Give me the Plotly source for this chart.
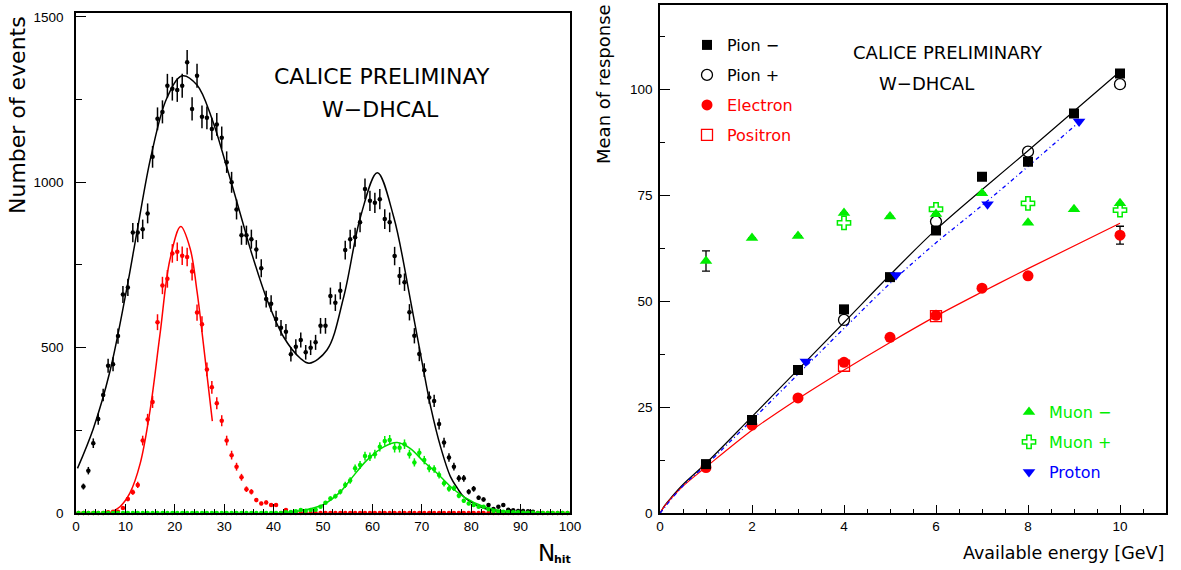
import numpy as np
import plotly.graph_objects as go

FONT = "DejaVu Sans"
TICKFONT = "Liberation Sans"

# ---------------- left panel: N_hit distributions ----------------
# all events (black), bins centred at 1.5 ... 92.5
total_centres = np.arange(1.5, 93.0, 1.0)
total_counts = [80, 128, 211, 284, 357, 445, 450, 535, 661, 682,
                848, 848, 858, 906, 1077, 1192, 1213, 1292, 1283, 1279,
                1292, 1363, 1222, 1322, 1198, 1195, 1161, 1175, 1135, 1061,
                1000, 918, 840, 840, 828, 797, 740, 647, 633, 587,
                560, 548, 480, 503, 523, 486, 500, 516, 566, 566,
                656, 636, 672, 795, 828, 834, 879, 980, 944, 938,
                949, 889, 879, 777, 717, 698, 607, 536, 481, 432,
                349, 339, 269, 213, 168, 140, 105, 105, 64, 73,
                46, 41, 24, 12, 19, 24, 10, 8, 6, 6,
                5, 4]

# electron (red) and muon (green) selections, bins centred at 0.5 ... 99.5
bin_centres = np.arange(0.5, 100.0, 1.0)
electron_counts = [0, 0, 0, 0, 0, 0, 2, 4, 4, 15,
                   42, 63, 85, 219, 283, 336, 577, 688, 708, 785,
                   790, 778, 774, 730, 606, 571, 434, 380, 332, 279,
                   219, 175, 140, 108, 72, 64, 39, 29, 32, 24,
                   24, 0, 9] + [0] * 57
muon_counts = [0] * 42 + [2, 3, 5, 9, 7, 9, 10, 19, 31, 44,
                          51, 64, 85, 98, 135, 145, 172, 170, 178, 200,
                          218, 221, 197, 197, 208, 178, 153, 182, 160, 135,
                          133, 115, 90, 73, 75, 52, 37, 29, 24, 19,
                          19, 11, 6, 4, 4, 3, 2, 2, 1, 1, 1] + [0] * 7

# fitted curves
total_fit_x = [0.3, 3.5, 6.9, 10.3, 12.4, 15.2, 18.4, 21.5, 24.5, 27.5, 30.5, 33.9,
               35.3, 38.7, 42.0, 45.4, 47.2, 50.8, 54.2, 57.6, 61.0, 64.3, 67.7,
               70.0, 71.8, 73.8, 75.8, 77.2, 78.5, 82.6, 88.0, 95.0]
total_fit_y = [135, 255, 430, 680, 855, 1080, 1255, 1322, 1294, 1193, 1047, 871,
               798, 644, 533, 468, 453, 493, 654, 896, 1029, 896, 644,
               460, 321, 200, 110, 75, 49, 14, 1, 0]
electron_fit_x = [6.9, 8.9, 10.9, 13.0, 15.0, 17.0, 19.0, 21.2, 23.1, 24.5, 25.8, 27.6]
electron_fit_y = [1, 19, 60, 150, 311, 540, 765, 866, 800, 670, 510, 278]
muon_fit_x = [41.0, 45.4, 50.0, 53.5, 55.5, 58.9, 62.3, 65.0, 67.7, 70.4, 73.1,
              75.8, 78.5, 82.6, 86.6, 92.7]
muon_fit_y = [1, 7, 25, 64, 100, 160, 200, 213, 195, 155, 120, 80, 49, 19, 6, 1]

# ---------------- right panel: mean response vs energy ----------------
pion_minus_e = [1, 2, 3, 4, 5, 6, 7, 8, 9, 10]
pion_minus_r = [11.6, 22.0, 33.8, 48.1, 55.7, 66.7, 79.4, 82.9, 94.3, 103.7]
pion_plus_e = [4, 6, 8, 10]
pion_plus_r = [45.6, 68.8, 85.3, 101.2]
electron_e = [1, 2, 3, 4, 5, 6, 7, 8, 10]
electron_r = [10.8, 20.8, 27.2, 35.6, 41.5, 46.7, 53.1, 56.0, 65.6]
electron_err = [0, 0, 0, 0, 0, 0, 0, 0, 2.1]
positron_e = [4, 6]
positron_r = [34.8, 46.5]
muon_minus_e = [1, 2, 3, 4, 5, 6, 7, 8, 9, 10]
muon_minus_r = [59.5, 64.9, 65.4, 70.8, 70.0, 70.6, 75.5, 68.5, 71.7, 73.1]
muon_minus_err = [2.4, 0, 0, 0, 0, 0, 0, 0, 0, 0]
muon_plus_e = [4, 6, 8, 10]
muon_plus_r = [68.5, 71.7, 73.1, 71.5]
proton_e = [3.17, 5.13, 7.12, 9.11]
proton_r = [35.8, 56.2, 72.9, 92.4]

pion_fit_e = [0, 0.1, 0.25, 0.5, 1, 2, 3, 4, 5, 6, 8, 10]
pion_fit_r = [0, 1.8, 3.8, 6.8, 11.8, 22.8, 33.9, 45.0, 56.2, 66.9, 85.5, 104.2]
electron_fit_e = [0, 0.1, 0.25, 0.5, 1, 2, 3, 4, 5, 6, 7, 8, 10]
electron_fit_r = [0, 1.7, 3.6, 6.4, 10.9, 19.6, 27.0, 33.8, 40.3, 46.5, 52.2, 57.7, 68.4]
proton_fit_e = [0, 0.5, 1, 2, 3, 4, 5, 6, 7, 8, 9.1]
proton_fit_r = [0, 6.5, 11.4, 22.0, 32.8, 43.6, 54.2, 63.8, 72.6, 81.8, 92.2]

W, H = 1181, 570


def px(x):
    return x / W


def py(y):
    return 1 - y / H


fig = go.Figure()


def add_hist(x, counts, color):
    counts = np.asarray(counts, dtype=float)
    fig.add_trace(go.Scatter(
        x=x, y=counts, mode='markers', xaxis='x', yaxis='y',
        marker=dict(size=4.5, color=color),
        error_y=dict(type='data', array=np.sqrt(counts), width=0, thickness=1.5, color=color),
        error_x=dict(type='constant', value=0.35, width=0, thickness=1, color=color),
        cliponaxis=False, showlegend=False, hoverinfo='skip'
    ))


def add_curve(x, y, color, xa='x', ya='y', width=1.5, dash='solid'):
    fig.add_trace(go.Scatter(
        x=x, y=y, mode='lines', xaxis=xa, yaxis=ya,
        line=dict(color=color, width=width, shape='spline', smoothing=1.0, dash=dash),
        showlegend=False, hoverinfo='skip'
    ))


add_hist(total_centres, total_counts, 'black')
add_curve(total_fit_x, total_fit_y, 'black')
add_hist(bin_centres, electron_counts, '#ff0000')
add_curve(electron_fit_x, electron_fit_y, '#ff0000')
add_hist(bin_centres, muon_counts, '#00ee00')
add_curve(muon_fit_x, muon_fit_y, '#00dd00')

# right panel fits
add_curve(pion_fit_e, pion_fit_r, 'black', 'x2', 'y2', width=1.2)
add_curve(electron_fit_e, electron_fit_r, '#ff0000', 'x2', 'y2', width=1.2)
add_curve(proton_fit_e, proton_fit_r, '#0000ff', 'x2', 'y2', width=1.3, dash='4px,3px,1px,3px')


def add_points(x, y, name, symbol, color, size, legend, err=None, line_w=0):
    kw = {}
    if err is not None:
        kw['error_y'] = dict(type='data', array=err, width=4, thickness=1.3, color='black')
    fig.add_trace(go.Scatter(
        x=x, y=y, mode='markers', name=name, xaxis='x2', yaxis='y2',
        marker=dict(symbol=symbol, size=size, color=color,
                    line=dict(color=color, width=line_w)),
        legend=legend, hoverinfo='skip', **kw
    ))


add_points(electron_e, electron_r, 'Electron', 'circle', '#ff0000', 11, 'legend3', err=electron_err)
add_points(positron_e, positron_r, 'Positron', 'square-open', '#ff0000', 11, 'legend4', line_w=1.3)
add_points(pion_minus_e, pion_minus_r, 'Pion \u2212', 'square', 'black', 10, 'legend')
add_points(pion_plus_e, pion_plus_r, 'Pion +', 'circle-open', 'black', 11, 'legend2', line_w=1.3)
add_points(muon_minus_e, muon_minus_r, 'Muon \u2212', 'triangle-up', '#00ee00', 11, 'legend5', err=muon_minus_err)
add_points(muon_plus_e, muon_plus_r, 'Muon +', 'cross-open', '#00ee00', 11, 'legend6', line_w=1.5)
add_points(proton_e, proton_r, 'Proton', 'triangle-down', '#0000ff', 11, 'legend7')

axis_common = dict(showline=True, linecolor='black', linewidth=1.6, mirror=True,
                   ticks='inside', tickcolor='black', tickwidth=1, showgrid=False,
                   zeroline=False, automargin=False,
                   tickfont=dict(family=TICKFONT, size=13.5, color='black'))

legend_common = dict(xanchor='left', yanchor='middle', bgcolor='rgba(0,0,0,0)',
                     borderwidth=0, itemclick=False, itemdoubleclick=False)


def legend_at(x, y, color):
    return dict(x=px(x), y=py(y), font=dict(family=FONT, size=16, color=color), **legend_common)


fig.update_layout(
    width=W, height=H, margin=dict(l=0, r=0, t=0, b=0, autoexpand=False),
    paper_bgcolor='white', plot_bgcolor='white', showlegend=True,
    xaxis=dict(domain=[px(76), px(570)], range=[0, 100], tick0=0, dtick=10, ticklen=9,
               minor=dict(dtick=2, ticklen=4, ticks='inside', tickcolor='black'),
               anchor='y', **axis_common),
    yaxis=dict(domain=[py(513), py(13)], range=[0, 1512], tick0=0, dtick=500, ticklen=10,
               minor=dict(dtick=250, ticklen=6, ticks='inside', tickcolor='black'),
               anchor='x', ticklabelstandoff=8, **axis_common),
    xaxis2=dict(domain=[px(660), px(1166)], range=[0, 11], tick0=0, dtick=2, ticklen=9,
                minor=dict(dtick=0.5, ticklen=5, ticks='inside', tickcolor='black'),
                anchor='y2', **axis_common),
    yaxis2=dict(domain=[py(513.3), py(4.5)], range=[0, 120], tick0=0, dtick=25, ticklen=10,
                minor=dict(dtick=12.5, ticklen=5, ticks='inside', tickcolor='black'),
                anchor='x2', ticklabelstandoff=3, **axis_common),
    legend=legend_at(687, 45, 'black'),
    legend2=legend_at(687, 75, 'black'),
    legend3=legend_at(687, 105, '#ff0000'),
    legend4=legend_at(687, 135, '#ff0000'),
    legend5=legend_at(1009, 412, '#00ee00'),
    legend6=legend_at(1009, 442, '#00ee00'),
    legend7=legend_at(1009, 472, '#0000ff'),
)


def label(text, x, y, size, color='black', angle=0, xanchor='center', bold=False):
    if bold:
        text = '<b>' + text + '</b>'
    fig.add_annotation(text=text, x=px(x), y=py(y), xref='paper', yref='paper',
                       showarrow=False, textangle=angle, xanchor=xanchor, yanchor='middle',
                       font=dict(family=FONT, size=size, color=color))


label('CALICE PRELIMINAY', 382, 77, 22)
label('W\u2212DHCAL', 380, 109, 22)
label('Number of events', 18, 115, 22, angle=-90)
label('N', 546, 553, 23)
label('hit', 562, 559, 11, bold=True)

label('CALICE PRELIMINARY', 948, 52, 18)
label('W\u2212DHCAL', 926, 83, 18)
label('Mean of response', 603, 84, 18, angle=-90)
label('Available energy [GeV]', 1166, 553, 17.5, xanchor='right')

# the page's default body margin would shift the fixed-size figure
fig.write_html("out.html", config={'displayModeBar': False},
               post_script="document.body.style.margin = '0px';")
